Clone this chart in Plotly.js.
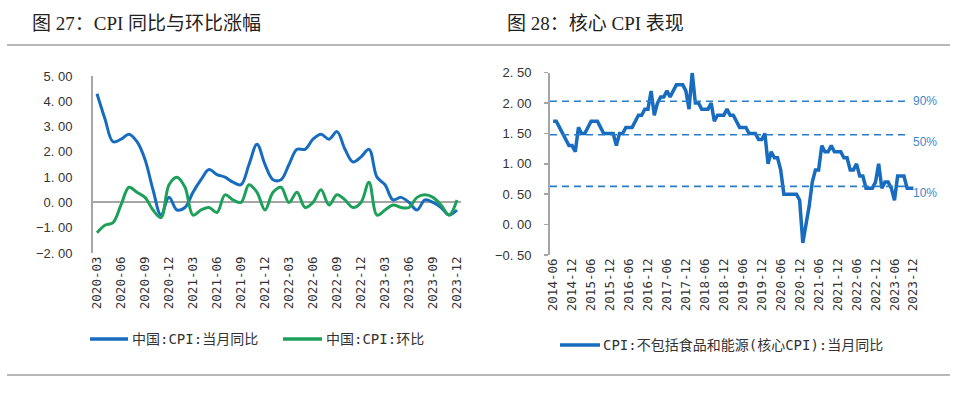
<!DOCTYPE html>
<html><head><meta charset="utf-8">
<script src="https://cdn.plot.ly/plotly-3.0.1.min.js"></script>
<style>html,body{margin:0;padding:0;background:#fff}#chart{width:960px;height:404px}</style>
</head><body><div id="chart"></div>
<script>
// ---------- data ----------
function monthRange(y0, m0, y1, m1) {
  const out = [];
  let y = y0, m = m0;
  while (y < y1 || (y === y1 && m <= m1)) {
    out.push(y + '-' + (m < 10 ? '0' + m : '' + m));
    m++; if (m > 12) { m = 1; y++; }
  }
  return out;
}
const leftMonths = monthRange(2020, 3, 2023, 12);
const cpiYoY = [4.3, 3.3, 2.4, 2.5, 2.7, 2.4, 1.7, 0.5, -0.5, 0.2,
  -0.3, -0.2, 0.4, 0.9, 1.3, 1.1, 1.0, 0.8, 0.7, 1.5, 2.3, 1.5,
  0.9, 0.9, 1.5, 2.1, 2.1, 2.5, 2.7, 2.5, 2.8, 2.1, 1.6, 1.8,
  2.1, 1.0, 0.7, 0.1, 0.2, 0.0, -0.3, 0.1, 0.0, -0.2, -0.5, -0.3];
const cpiMoM = [-1.2, -0.9, -0.8, -0.1, 0.6, 0.4, 0.2, -0.3, -0.6, 0.7,
  1.0, 0.6, -0.5, -0.3, -0.2, -0.4, 0.3, 0.1, 0.0, 0.7, 0.4, -0.3,
  0.4, 0.6, 0.0, 0.4, -0.2, 0.0, 0.5, -0.1, 0.3, 0.1, -0.2, 0.0,
  0.8, -0.5, -0.3, -0.1, -0.2, -0.2, 0.2, 0.3, 0.2, -0.1, -0.5, 0.1];
const leftTickLabels = ['2020-03','2020-06','2020-09','2020-12','2021-03','2021-06','2021-09','2021-12',
  '2022-03','2022-06','2022-09','2022-12','2023-03','2023-06','2023-09','2023-12'];
const leftYTicks = [5, 4, 3, 2, 1, 0, -1, -2];
const leftYTickText = ['5. 00','4. 00','3. 00','2. 00','1. 00','0. 00','\u22121. 00','\u22122. 00'];

const rightMonths = monthRange(2014, 6, 2023, 12);
const coreCpi = [1.7, 1.7, 1.6, 1.5, 1.4, 1.3, 1.3,
  1.2, 1.6, 1.5, 1.5, 1.6, 1.7, 1.7, 1.7, 1.6, 1.5, 1.5, 1.5,
  1.5, 1.3, 1.5, 1.5, 1.6, 1.6, 1.6, 1.7, 1.8, 1.8, 1.9, 1.9,
  2.2, 1.8, 2.0, 2.1, 2.1, 2.2, 2.1, 2.2, 2.3, 2.3, 2.3, 2.2,
  1.9, 2.5, 2.0, 2.0, 1.9, 1.9, 1.9, 2.0, 1.7, 1.8, 1.8, 1.8,
  1.9, 1.8, 1.8, 1.7, 1.6, 1.6, 1.6, 1.5, 1.5, 1.5, 1.4, 1.4,
  1.5, 1.0, 1.2, 1.1, 1.1, 0.9, 0.5, 0.5, 0.5, 0.5, 0.5, 0.4,
  -0.3, 0.0, 0.3, 0.7, 0.9, 0.9, 1.3, 1.2, 1.2, 1.3, 1.2, 1.2,
  1.2, 1.1, 1.1, 0.9, 0.9, 1.0, 0.8, 0.8, 0.6, 0.6, 0.6, 0.7,
  1.0, 0.6, 0.7, 0.7, 0.6, 0.4, 0.8, 0.8, 0.8, 0.6, 0.6, 0.6];
const rightTickLabels = ['2014-06','2014-12','2015-06','2015-12','2016-06','2016-12','2017-06','2017-12',
  '2018-06','2018-12','2019-06','2019-12','2020-06','2020-12','2021-06','2021-12','2022-06','2022-12',
  '2023-06','2023-12'];
const rightYTicks = [2.5, 2, 1.5, 1, 0.5, 0, -0.5];
const rightYTickText = ['2. 50','2. 00','1. 50','1. 00','0. 50','0. 00','\u22120. 50'];
const pctLevels = [2.03, 1.48, 0.63];
const pctLabels = ['90%', '50%', '10%'];

const leftNames = ['中国:CPI:当月同比', '中国:CPI:环比'];
const rightName = 'CPI:不包括食品和能源(核心CPI):当月同比';
const titles = ['图 27：CPI 同比与环比涨幅', '图 28：核心 CPI 表现'];

// ---------- styling ----------
const W = 960, H = 404;
const px = x => x / W, py = y => 1 - y / H;
const BLUE = '#176cbf', GREEN = '#1ea05b', DASH = '#2b7cc8', AX = '#a6a6a6';
const tickFont = {family: 'Liberation Sans, Arial, sans-serif', size: 13, color: '#333'};
const xTickFont = {family: 'DejaVu Sans Mono, monospace', size: 12.5, color: '#333'};
const legFont = {family: 'DejaVu Sans Mono, Noto Sans CJK SC, monospace', size: 14, color: '#333'};
const titleFont = {family: 'Liberation Serif, Noto Sans CJK SC, serif', size: 19, color: '#222'};

const traces = [
  {x: leftMonths, y: cpiYoY, xaxis: 'x', yaxis: 'y', type: 'scatter', mode: 'lines', name: leftNames[0],
   line: {color: BLUE, width: 3, shape: 'spline', smoothing: 1}, showlegend: false},
  {x: leftMonths, y: cpiMoM, xaxis: 'x', yaxis: 'y', type: 'scatter', mode: 'lines', name: leftNames[1],
   line: {color: GREEN, width: 3, shape: 'spline', smoothing: 1}, showlegend: false},
  {x: rightMonths, y: coreCpi, xaxis: 'x2', yaxis: 'y2', type: 'scatter', mode: 'lines', name: rightName,
   line: {color: BLUE, width: 3.5}, showlegend: false}
];

const rightTickIdx = [];
for (let i = 6; i < rightMonths.length; i += 6) rightTickIdx.push(i);

const shapes = [
  {type: 'line', xref: 'paper', yref: 'paper', x0: px(7), x1: px(950), y0: py(45), y1: py(45), line: {color: '#a0a0a0', width: 1.5}},
  {type: 'line', xref: 'paper', yref: 'paper', x0: px(7), x1: px(950), y0: py(375), y1: py(375), line: {color: '#a0a0a0', width: 1.5}},
  // legend samples
  {type: 'line', xref: 'paper', yref: 'paper', x0: px(90), x1: px(128), y0: py(339), y1: py(339), line: {color: BLUE, width: 3.5}},
  {type: 'line', xref: 'paper', yref: 'paper', x0: px(283), x1: px(322), y0: py(339), y1: py(339), line: {color: GREEN, width: 3.5}},
  {type: 'line', xref: 'paper', yref: 'paper', x0: px(560), x1: px(600), y0: py(345), y1: py(345), line: {color: BLUE, width: 3.5}}
];
pctLevels.forEach(v => shapes.push({type: 'line', xref: 'x2 domain', yref: 'y2', x0: 0, x1: 0.985, y0: v, y1: v,
  line: {color: DASH, width: 1.6, dash: '7px,5px'}}));

const annotations = [
  {xref: 'paper', yref: 'paper', x: px(30), y: py(23), xanchor: 'left', yanchor: 'middle', text: titles[0], showarrow: false, font: titleFont},
  {xref: 'paper', yref: 'paper', x: px(505), y: py(23), xanchor: 'left', yanchor: 'middle', text: titles[1], showarrow: false, font: titleFont},
  {xref: 'paper', yref: 'paper', x: px(130), y: py(339), xanchor: 'left', yanchor: 'middle', text: leftNames[0], showarrow: false, font: legFont},
  {xref: 'paper', yref: 'paper', x: px(324), y: py(339), xanchor: 'left', yanchor: 'middle', text: leftNames[1], showarrow: false, font: legFont},
  {xref: 'paper', yref: 'paper', x: px(601), y: py(345), xanchor: 'left', yanchor: 'middle', text: rightName, showarrow: false, font: legFont}
];
pctLevels.forEach((v, i) => annotations.push({xref: 'paper', yref: 'y2', x: px(911), y: v, xanchor: 'left', yanchor: 'middle',
  yshift: i === 0 ? 0 : -7, text: pctLabels[i], showarrow: false,
  font: {family: 'Liberation Sans, Arial, sans-serif', size: 12, color: '#3f87cc'}}));

const layout = {
  width: W, height: H, autosize: false,
  margin: {l: 0, r: 0, t: 0, b: 0},
  paper_bgcolor: '#fff', plot_bgcolor: 'rgba(0,0,0,0)',
  showlegend: false,
  xaxis: {domain: [px(93), px(461)], anchor: 'y', type: 'category', range: [-0.5, leftMonths.length - 0.5],
    tickmode: 'array', tickvals: leftTickLabels, ticktext: leftTickLabels, tickangle: -90,
    tickfont: xTickFont, showgrid: false, zeroline: false, showline: false, ticks: '', fixedrange: true},
  yaxis: {domain: [py(253), py(76)], anchor: 'x', range: [-2, 5], tickmode: 'array',
    tickvals: leftYTicks, ticktext: leftYTickText, tickfont: tickFont, showgrid: false,
    zeroline: true, zerolinecolor: AX, zerolinewidth: 2, showline: true, linecolor: AX, linewidth: 2,
    ticks: '', ticklabelstandoff: 16},
  xaxis2: {domain: [px(550), px(915)], anchor: 'y2', type: 'category', range: [-1, rightMonths.length - 0.5],
    tickmode: 'array', tickvals: rightTickLabels, ticktext: rightTickLabels, tickangle: -90,
    tickfont: xTickFont, showgrid: false, zeroline: false, showline: false, ticks: ''},
  yaxis2: {domain: [py(255), py(72.7)], anchor: 'x2', range: [-0.5, 2.5], tickmode: 'array',
    tickvals: rightYTicks, ticktext: rightYTickText, tickfont: tickFont, showgrid: false,
    zeroline: false, showline: true, linecolor: AX, linewidth: 2,
    ticks: 'outside', ticklen: 4, tickcolor: AX, tickwidth: 1.5, ticklabelstandoff: 10},
  xaxis3: {overlaying: 'x2', anchor: 'free', position: py(224.5), type: 'linear',
    range: [-1, rightMonths.length - 0.5], tickmode: 'array', tickvals: rightTickIdx,
    showticklabels: false, ticks: 'outside', ticklen: 5, tickcolor: AX, tickwidth: 1.5,
    showline: true, linecolor: AX, linewidth: 2, showgrid: false, zeroline: false},
  shapes: shapes,
  annotations: annotations
};

Plotly.newPlot('chart', traces, layout, {staticPlot: true, displayModeBar: false});
</script>
</body></html>
